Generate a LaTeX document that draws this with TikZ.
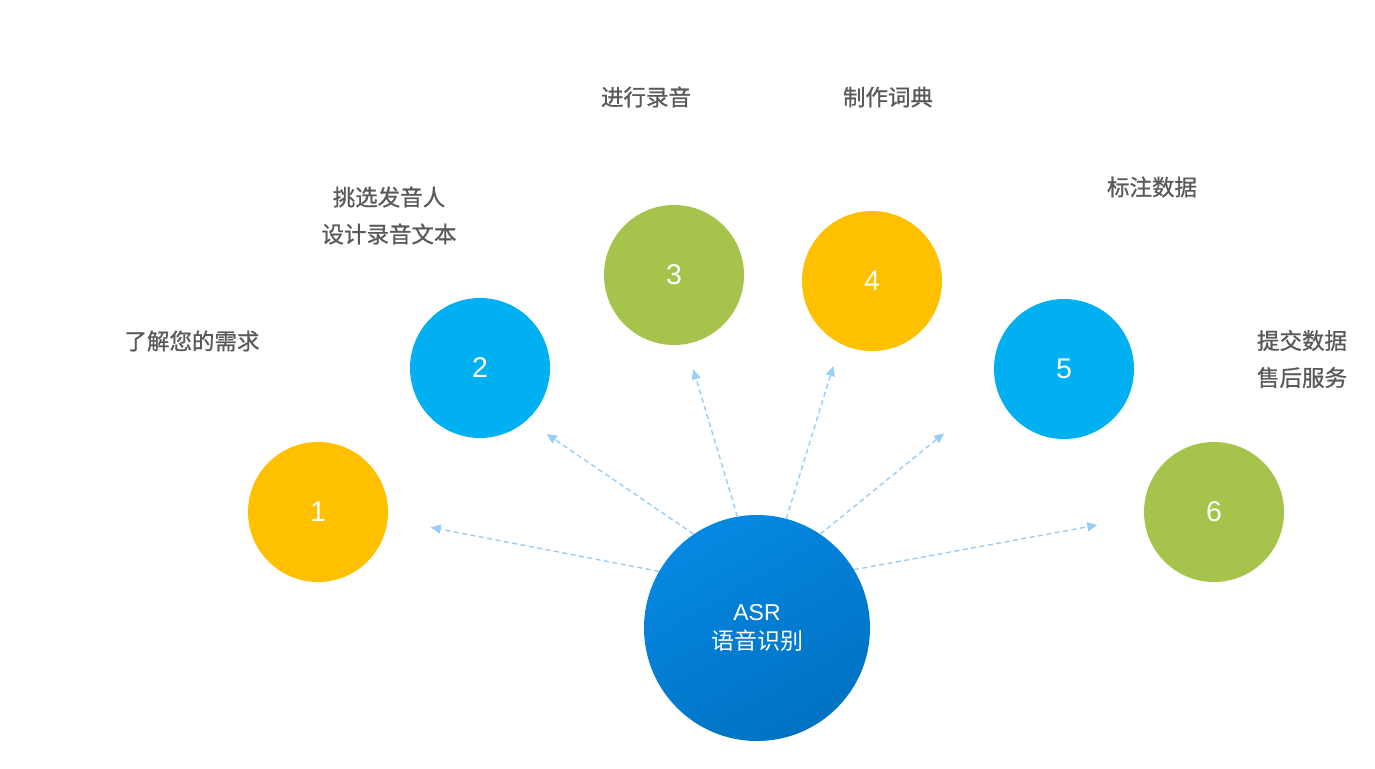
\documentclass[tikz,border=0pt]{standalone}
\usepackage{fontspec}
\setmainfont{Liberation Sans}
\newfontfamily\cjk{Noto Sans CJK SC}
\newfontfamily\cjkm[FakeBold=0.8]{Noto Sans CJK SC}
\usetikzlibrary{arrows.meta}
\definecolor{camber}{HTML}{FFC000}
\definecolor{csky}{HTML}{00B0F0}
\definecolor{cgreen}{HTML}{A6C34B}
\definecolor{carr}{HTML}{99CEF7}
\definecolor{clbl}{HTML}{595959}
\definecolor{ctopb}{HTML}{0588E2}
\definecolor{cbotb}{HTML}{0072C2}
\begin{document}
\begin{tikzpicture}[x=1pt,y=-1pt,
  ball/.style={circle,minimum size=140pt,inner sep=0pt,text=white,font=\fontsize{28.5}{30}\selectfont},
  lab/.style={text=clbl,font=\cjkm\fontsize{22.5}{37}\selectfont,align=center},
  link/.style={draw=carr,line width=1.4pt,dash pattern=on 5pt off 3.5pt,-{Triangle[length=10pt,width=9pt]}}]
\fill[white] (0,0) rectangle (1375,768);
\useasboundingbox (0,0) rectangle (1375,768);
% numbered circles
\node[ball,fill=camber] (n1) at (318,512) {1};
\node[ball,fill=csky] (n2) at (480,368) {2};
\node[ball,fill=cgreen] (n3) at (674,275) {3};
\node[ball,fill=camber] (n4) at (872,281) {4};
\node[ball,fill=csky] (n5) at (1064,369) {5};
\node[ball,fill=cgreen] (n6) at (1214,512) {6};
% centre
\node[circle,minimum size=226pt,inner sep=0pt,top color=ctopb,bottom color=cbotb,shading angle=30,
  text=white,align=center,font=\fontsize{23}{29}\selectfont] (c) at (757,628) {ASR\\{\cjk 语音识别}};
% labels
\node[lab] (t1) at (192,341) {了解您的需求};
\node[lab] (t2) at (389,215.5) {挑选发音人\\设计录音文本};
\node[lab] (t3) at (646,97) {进行录音};
\node[lab] (t4) at (888,97) {制作词典};
\node[lab] (t5) at (1152,187) {标注数据};
\node[lab] (t6) at (1302,359) {提交数据\\售后服务};
% arrow ends
\coordinate (e1) at (430.7,527.3);
\coordinate (e2) at (546.7,434);
\coordinate (e3) at (693.3,369.3);
\coordinate (e4) at (833.3,366);
\coordinate (e5) at (944,433.3);
\coordinate (e6) at (1097.3,525);
\draw[link] (c.150) -- (e1);
\draw[link] (c.124) -- (e2);
\draw[link] (c.100) -- (e3);
\draw[link] (c.75) -- (e4);
\draw[link] (c.56) -- (e5);
\draw[link] (c.31) -- (e6);
\end{tikzpicture}
\end{document}
